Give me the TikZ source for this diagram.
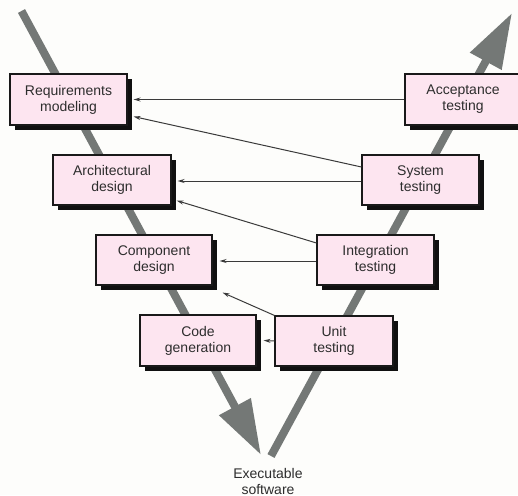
\documentclass[tikz,border=0pt]{standalone}
\usepackage{fontspec}
\setmainfont{Liberation Sans}
\usetikzlibrary{arrows.meta}
\definecolor{boxpink}{RGB}{253,229,240}
\definecolor{bargray}{RGB}{116,120,118}
\definecolor{linegray}{RGB}{58,58,58}
\definecolor{txtgray}{RGB}{45,45,45}
\definecolor{paper}{RGB}{253,253,251}
\definecolor{shadowblack}{RGB}{16,16,16}
\begin{document}
\begin{tikzpicture}[x=1pt,y=-1pt,
  stage/.style={draw=black!90, line width=1.1pt, fill=boxpink, text=txtgray,
    align=center, inner sep=0pt, minimum width=117pt, minimum height=50pt,
    font=\fontsize{14}{16}\selectfont},
  boxshadow/.style={fill=shadowblack},
  flowbar/.style={draw=bargray, line width=8pt,
    -{Triangle[length=55pt,width=34pt]}},
  conn/.style={draw=linegray, line width=1pt,
    -{Stealth[length=7pt,width=4pt]}},
  label/.style={text=txtgray, align=center, inner sep=0pt,
    font=\fontsize{14}{16}\selectfont}]

\useasboundingbox (0,0) rectangle (518,495);
\fill[paper] (0,0) rectangle (518,495);

% the two broad flow arrows of the V, behind the boxes
\coordinate (vtop)   at (21.5,11);
\coordinate (vleft)  at (261,455);
\coordinate (vright) at (271,456);
\coordinate (vend)   at (512,13);
\draw[flowbar] (vtop) -- (vleft);
\draw[flowbar] (vright) -- (vend);

% solid drop shadows: centre x, centre y, width, height
\foreach \cx/\cy/\bw/\bh in {68.5/99.5/117/51, 112/180/118/50, 154/260/116/50,
    198/340.5/116/51, 463/99.5/116/51, 420.5/180/117/50, 375.5/260/117/50,
    334/341/118/50}
  \fill[boxshadow] (\cx-\bw/2+4.5, \cy-\bh/2+4.5)
    rectangle (\cx+\bw/2+4.5, \cy+\bh/2+4.5);

% design side (left) and testing side (right)
\node[stage, minimum height=51pt] (req)  at (68.5,99.5) {Requirements\\modeling};
\node[stage, minimum width=118pt] (arch) at (112,180)   {Architectural\\design};
\node[stage, minimum width=116pt] (comp) at (154,260)   {Component\\design};
\node[stage, minimum width=116pt, minimum height=51pt] (code) at (198,340.5) {Code\\generation};

\node[stage, minimum width=116pt, minimum height=51pt] (acc) at (463,99.5) {Acceptance\\testing};
\node[stage] (sys)  at (420.5,180) {System\\testing};
\node[stage] (int)  at (375.5,260) {Integration\\testing};
\node[stage, minimum width=118pt] (unit) at (334,341) {Unit\\testing};

\node[label, anchor=north] (exe) at (268,468) {Executable\\software};

% verification links from each test stage back to the design stages
\draw[conn] (acc.west) -- ([xshift=6pt]req.east);
\draw[conn] ([yshift=13pt]sys.west) -- ([xshift=6pt,yshift=9pt]req.south east);
\draw[conn] ([yshift=-1pt]sys.west) -- ([xshift=6pt,yshift=-1pt]arch.east);
\draw[conn] ([yshift=17pt]int.west) -- ([xshift=5pt,yshift=5pt]arch.south east);
\draw[conn] ([yshift=-1pt]int.west) -- ([xshift=7pt,yshift=-1pt]comp.east);
\draw[conn] (unit.north west) -- ([xshift=10pt,yshift=-7pt]comp.south east);
\draw[conn] (unit.west) -- ([xshift=7pt]code.east);
\end{tikzpicture}
\end{document}
